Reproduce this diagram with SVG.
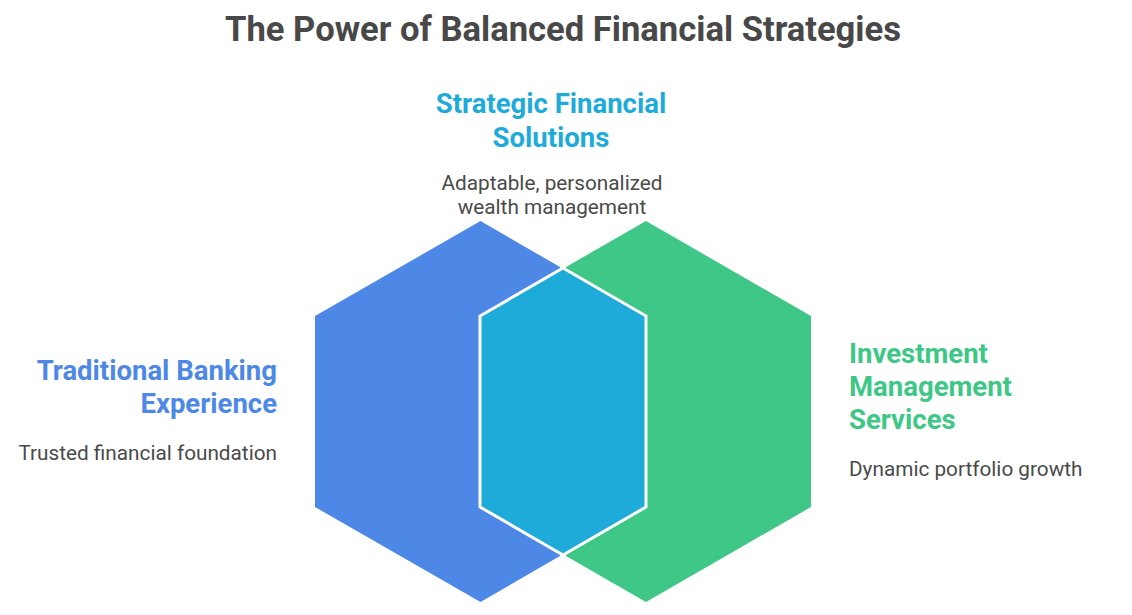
<svg xmlns="http://www.w3.org/2000/svg" width="1132" height="615" viewBox="0 0 1132 615">
<style>
text{font-family:Roboto,"Liberation Sans",sans-serif}
.t{font-size:27.5px;font-weight:700}
.d{font-size:20.75px;fill:#4a4a4a}
.b{fill:#4e88e7}.g{fill:#3ec786}.c{fill:#1eabda}
</style>
<rect width="1132" height="615" fill="#fff"/>
<text id="title" x="563" y="41" text-anchor="middle" font-size="34.6" font-weight="700" fill="#484848">The Power of Balanced Financial Strategies</text>
<g id="traditional">
<polygon class="b" points="480.5,221 560,267 560,556 480.5,602 315,507 315,316"/>
<text class="t" x="277" y="380" text-anchor="end" fill="#4e88e7">Traditional Banking</text>
<text class="t" x="277" y="413" text-anchor="end" fill="#4e88e7">Experience</text>
<text class="d" x="277" y="460" text-anchor="end">Trusted financial foundation</text>
</g>
<g id="investment">
<polygon class="g" points="646,221 811,316 811,507 646,602 566,556 566,267"/>
<text class="t" x="849" y="363" fill="#3ec786">Investment</text>
<text class="t" x="849" y="396" fill="#3ec786">Management</text>
<text class="t" x="849" y="429" fill="#3ec786">Services</text>
<text class="d" x="849" y="476">Dynamic portfolio growth</text>
</g>
<g id="strategic">
<polygon class="c" stroke="#fff" stroke-width="3" points="563,268 646,316 646,507 563,555 480,507 480,316"/>
<text class="t" x="551" y="113" text-anchor="middle" fill="#1eabda">Strategic Financial</text>
<text class="t" x="551" y="147" text-anchor="middle" fill="#1eabda">Solutions</text>
<text class="d" x="552" y="190" text-anchor="middle">Adaptable, personalized</text>
<text class="d" x="552" y="214" text-anchor="middle">wealth management</text>
</g>
<g id="connectors"/>
</svg>
